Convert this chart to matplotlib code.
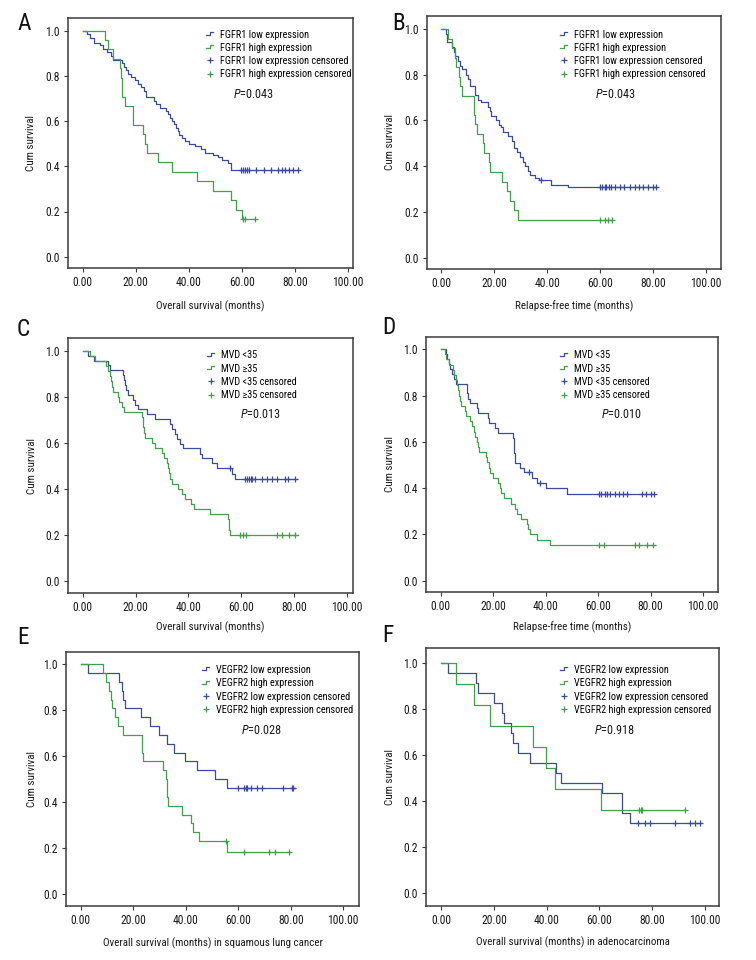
import numpy as np
import matplotlib
matplotlib.use("Agg")
import matplotlib.pyplot as plt
from matplotlib.lines import Line2D
from matplotlib.legend_handler import HandlerBase
from matplotlib import font_manager as fm
from matplotlib.textpath import TextToPath

# ---------------- Font choice: a narrow sans face close to the reference ----------------
SAMPLE = "FGFR1 high expression censored"
TARGET_RATIO = 15.3      # text width / cap height seen in the reference
TARGET_CAP_PX = 8.5      # cap height of tick/legend text in the reference (pixels)
BASE_FAMILIES = ('DejaVu Sans', 'Liberation Sans', 'Noto Sans', 'Roboto', 'Open Sans', 'Lato', 'Inter')


def allowed(name):
    if name in BASE_FAMILIES:
        return True
    for p in BASE_FAMILIES:
        if name.startswith(p) and ('Condensed' in name or 'Narrow' in name) \
                and not any(x in name for x in ('Mono', 'CJK', 'Display', 'Serif')):
            return True
    return False


def pick_font():
    ttp = TextToPath()
    seen = set()
    best = None
    for f in fm.fontManager.ttflist:
        if f.style != 'normal' or not allowed(f.name):
            continue
        if f.weight not in (400, 'normal', 'regular', 'book', 'Regular'):
            continue
        key = (f.name, f.stretch)
        if key in seen:
            continue
        seen.add(key)
        try:
            prop = fm.FontProperties(family=f.name, stretch=f.stretch, size=9)
            fm.findfont(prop, fallback_to_default=False)
            w, _, _ = ttp.get_text_width_height_descent(SAMPLE, prop, ismath=False)
            _, ch, _ = ttp.get_text_width_height_descent("FGFR1", prop, ismath=False)
        except Exception:
            continue
        if ch <= 0:
            continue
        ratio = w / ch
        score = abs(ratio - TARGET_RATIO)
        if best is None or score < best[0]:
            best = (score, f.name, f.stretch, ch)
    return best


best = pick_font()
if best is None:
    FAM, STRETCH, CH9 = 'DejaVu Sans', 'normal', 6.6
else:
    _, FAM, STRETCH, CH9 = best

plt.rcParams['font.family'] = [FAM, 'DejaVu Sans']
plt.rcParams['font.stretch'] = STRETCH
plt.rcParams['mathtext.fontset'] = 'custom'
plt.rcParams['mathtext.rm'] = FAM
plt.rcParams['mathtext.it'] = FAM + ':italic'

FS = 9 * (TARGET_CAP_PX * 0.72) / CH9
FS = float(min(max(FS, 7.0), 11.5))
LEG_FS = FS * 0.88

BLUE = "#3a4a9c"
GREEN = "#41a04a"

# ---------------- Data ----------------
# Panel A: FGFR1, overall survival
A_low_t = [0, 1.8, 2.8, 4.4, 6.5, 7.5, 9.0, 10.5, 11.5, 14.7, 15.5, 16.3, 17.1, 18.4, 19.6, 20.8, 22.1, 23.0,
           24.0, 26.8, 27.8, 29.0, 31.6, 32.3, 33.0, 33.7, 34.4, 35.1, 35.8, 36.5, 37.3, 38.5, 40.0, 42.5,
           44.8, 46.1, 49.0, 51.0, 52.7, 55.0, 55.8]
A_low_s = [1.0, 0.984, 0.968, 0.944, 0.935, 0.92, 0.905, 0.888, 0.872, 0.857, 0.84, 0.825, 0.81, 0.795, 0.78,
           0.765, 0.75, 0.735, 0.705, 0.69, 0.675, 0.66, 0.645, 0.63, 0.615, 0.60, 0.585, 0.57, 0.555, 0.54,
           0.525, 0.51, 0.50, 0.49, 0.475, 0.46, 0.45, 0.44, 0.43, 0.415, 0.383]
A_low_end = 81.5
A_low_cens = [59.6, 60.5, 61.4, 62.0, 62.7, 65.5, 68.6, 71.1, 73.7, 75.3, 76.5, 78.0, 79.5, 81.2]
A_high_t = [0, 8.4, 9.7, 11.5, 14.0, 14.4, 14.8, 15.0, 16.0, 18.8, 19.0, 22.8, 23.6, 24.1, 28.5, 33.8, 43.2,
            49.2, 55.8, 57.7, 60.1]
A_high_s = [1.0, 0.958, 0.917, 0.875, 0.833, 0.792, 0.75, 0.708, 0.667, 0.625, 0.583, 0.542, 0.5, 0.458,
            0.417, 0.375, 0.333, 0.292, 0.25, 0.208, 0.167]
A_high_end = 64.9
A_high_cens = [60.5, 61.1, 64.9]

# Panel B: FGFR1, relapse-free time
B_low_t = [0, 1.9, 2.2, 2.3, 4.0, 4.8, 5.3, 6.3, 6.9, 7.8, 9.5, 10.0, 10.7, 12.6, 12.9, 13.8, 15.1, 17.6, 18.2,
           18.9, 20.8, 21.7, 22.5, 23.4, 25.3, 26.5, 27.5, 28.4, 29.6, 30.8, 31.7, 32.7, 33.6, 35.2, 37.0,
           41.5, 47.8]
B_low_s = [1.0, 0.98, 0.96, 0.945, 0.92, 0.90, 0.88, 0.86, 0.84, 0.824, 0.80, 0.78, 0.752, 0.73, 0.71, 0.69,
           0.68, 0.66, 0.64, 0.62, 0.60, 0.58, 0.57, 0.55, 0.53, 0.51, 0.48, 0.46, 0.44, 0.42, 0.40, 0.38,
           0.36, 0.35, 0.34, 0.32, 0.31]
B_low_end = 81.5
B_low_cens = [37.7, 59.7, 60.6, 61.6, 62.3, 63.1, 64.2, 65.7, 67.3, 68.9, 71.1, 73.0, 74.6, 76.1, 78.0, 79.9, 81.1]
B_high_t = [0, 2.5, 4.0, 5.3, 5.6, 6.7, 7.2, 7.8, 12.2, 12.5, 12.8, 13.6, 15.7, 16.1, 18.0, 18.2, 23.0, 24.8,
            26.0, 27.3, 28.9]
B_high_s = [1.0, 0.958, 0.917, 0.875, 0.833, 0.792, 0.75, 0.708, 0.667, 0.625, 0.583, 0.542, 0.5, 0.458,
            0.417, 0.375, 0.333, 0.292, 0.25, 0.208, 0.167]
B_high_end = 64.5
B_high_cens = [59.7, 61.6, 62.9, 64.5]

# Panel C: MVD, overall survival
C_low_t = [0, 2.1, 4.3, 9.7, 10.4, 15.2, 15.8, 16.2, 16.4, 17.3, 18.9, 19.8, 21.1, 24.2, 27.4, 33.1, 33.7, 35.0,
           35.6, 36.9, 37.9, 44.4, 45.1, 48.9, 51.0, 56.4, 57.7]
C_low_s = [1.0, 0.979, 0.957, 0.936, 0.915, 0.894, 0.872, 0.851, 0.830, 0.809, 0.787, 0.766, 0.745, 0.723,
           0.702, 0.680, 0.659, 0.638, 0.617, 0.596, 0.575, 0.553, 0.532, 0.510, 0.489, 0.466, 0.444]
C_low_end = 81.0
C_low_cens = [55.8, 61.5, 62.4, 63.1, 63.6, 64.3, 65.3, 67.8, 69.7, 71.6, 73.5, 76.6, 77.9, 80.4]
C_high_t = [0, 2.8, 4.7, 8.8, 9.7, 10.4, 10.8, 11.2, 11.6, 13.5, 13.9, 14.8, 15.7, 22.3, 22.7, 23.0, 23.4, 23.7,
            26.1, 27.4, 29.9, 30.8, 31.8, 32.2, 32.7, 33.1, 33.7, 36.2, 37.5, 38.8, 40.9, 42.2, 48.2, 54.9,
            55.3, 55.5, 55.8]
C_high_s = [1.0, 0.978, 0.956, 0.933, 0.911, 0.889, 0.867, 0.844, 0.822, 0.800, 0.778, 0.756, 0.733, 0.711,
            0.689, 0.667, 0.644, 0.622, 0.600, 0.578, 0.556, 0.533, 0.511, 0.489, 0.467, 0.444, 0.422, 0.400,
            0.378, 0.356, 0.333, 0.311, 0.289, 0.267, 0.244, 0.222, 0.200]
C_high_end = 81.4
C_high_cens = [59.6, 60.9, 61.9, 73.5, 75.4, 78.3, 80.4]

# Panel D: MVD, relapse-free time
D_low_t = [0, 1.9, 2.4, 3.0, 3.4, 4.3, 5.0, 6.0, 9.9, 10.2, 10.4, 11.1, 14.0, 14.2, 18.0, 18.3, 20.8, 21.9,
           27.6, 27.8, 27.9, 28.1, 28.2, 28.5, 30.1, 31.8, 34.8, 36.8, 40.3, 48.3]
D_low_s = [1.0, 0.979, 0.957, 0.936, 0.915, 0.894, 0.872, 0.851, 0.830, 0.809, 0.787, 0.766, 0.745, 0.723,
           0.702, 0.680, 0.659, 0.638, 0.617, 0.596, 0.574, 0.553, 0.532, 0.510, 0.489, 0.468, 0.445, 0.422,
           0.400, 0.375]
D_low_end = 81.3
D_low_cens = [33.5, 37.7, 60.2, 61.0, 62.5, 63.5, 64.7, 66.6, 67.9, 69.5, 71.2, 76.9, 78.4, 80.1, 81.3]
D_high_t = [0, 1.8, 2.2, 3.0, 4.7, 5.1, 5.7, 6.1, 6.6, 7.0, 7.4, 7.9, 9.4, 9.8, 11.1, 12.1, 12.7, 13.2, 13.7,
            14.2, 14.6, 17.4, 17.8, 18.3, 18.9, 19.9, 21.9, 22.5, 23.1, 24.1, 26.7, 28.5, 29.2, 30.7, 32.9,
            33.3, 33.9, 36.8, 41.5]
D_high_s = [1.0, 0.978, 0.956, 0.933, 0.911, 0.889, 0.867, 0.844, 0.822, 0.800, 0.778, 0.756, 0.733, 0.711,
            0.689, 0.667, 0.644, 0.622, 0.600, 0.578, 0.556, 0.533, 0.511, 0.489, 0.467, 0.444, 0.422, 0.400,
            0.378, 0.356, 0.333, 0.311, 0.289, 0.267, 0.244, 0.222, 0.200, 0.178, 0.156]
D_high_end = 81.6
D_high_cens = [60.2, 62.1, 74.0, 75.5, 78.8, 81.0]

# Panel E: VEGFR2, squamous lung cancer
E_low_t = [0, 2.7, 14.7, 15.6, 16.2, 16.9, 22.8, 26.4, 29.9, 32.7, 35.5, 39.7, 44.4, 51.1, 55.8]
E_low_s = [1.0, 0.962, 0.923, 0.885, 0.846, 0.808, 0.769, 0.731, 0.692, 0.654, 0.615, 0.577, 0.538, 0.500, 0.462]
E_low_end = 81.6
E_low_cens = [60.0, 62.3, 62.8, 63.2, 64.7, 67.0, 68.9, 76.9, 80.3, 81.0]
E_high_t = [0, 8.6, 9.6, 10.9, 11.4, 11.8, 13.1, 14.3, 16.2, 23.2, 23.5, 23.9, 31.2, 32.4, 32.7, 33.0, 33.4,
            38.5, 41.9, 42.6, 45.1, 55.8]
E_high_s = [1.0, 0.962, 0.923, 0.885, 0.846, 0.808, 0.769, 0.731, 0.692, 0.654, 0.615, 0.577, 0.538, 0.500,
            0.462, 0.423, 0.385, 0.346, 0.308, 0.269, 0.231, 0.185]
E_high_end = 79.7
E_high_cens = [55.3, 62.2, 71.8, 74.0, 79.4]

# Panel F: VEGFR2, adenocarcinoma
F_low_t = [0, 2.5, 13.0, 13.9, 20.0, 23.0, 23.8, 26.6, 27.2, 29.1, 33.8, 43.7, 45.6, 61.0, 68.7, 71.8]
F_low_s = [1.0, 0.957, 0.913, 0.870, 0.826, 0.783, 0.739, 0.696, 0.652, 0.609, 0.565, 0.522, 0.478, 0.435,
           0.348, 0.304]
F_low_end = 98.5
F_low_cens = [74.7, 77.2, 79.1, 88.6, 94.3, 96.2, 98.1]
F_high_t = [0, 5.4, 12.4, 18.4, 34.8, 39.9, 43.0, 60.5]
F_high_s = [1.0, 0.909, 0.818, 0.727, 0.636, 0.545, 0.455, 0.364]
F_high_end = 92.7
F_high_cens = [74.9, 75.7, 76.3, 92.7]

x_ticks = [0, 20, 40, 60, 80, 100]
y_ticks = [0.0, 0.2, 0.4, 0.6, 0.8, 1.0]

labels_fgfr = ["FGFR1 low expression", "FGFR1 high expression",
               "FGFR1 low expression censored", "FGFR1 high expression censored"]
labels_mvd = ["MVD <35", "MVD \u226535", "MVD <35 censored", "MVD \u226535 censored"]
labels_vegfr = ["VEGFR2 low expression", "VEGFR2 high expression",
                "VEGFR2 low expression censored", "VEGFR2 high expression censored"]

panels = [
    dict(letter="A", low=(A_low_t, A_low_s, A_low_end, A_low_cens), high=(A_high_t, A_high_s, A_high_end, A_high_cens),
         labels=labels_fgfr, p="0.043", xlabel="Overall survival (months)"),
    dict(letter="B", low=(B_low_t, B_low_s, B_low_end, B_low_cens), high=(B_high_t, B_high_s, B_high_end, B_high_cens),
         labels=labels_fgfr, p="0.043", xlabel="Relapse-free time (months)"),
    dict(letter="C", low=(C_low_t, C_low_s, C_low_end, C_low_cens), high=(C_high_t, C_high_s, C_high_end, C_high_cens),
         labels=labels_mvd, p="0.013", xlabel="Overall survival (months)"),
    dict(letter="D", low=(D_low_t, D_low_s, D_low_end, D_low_cens), high=(D_high_t, D_high_s, D_high_end, D_high_cens),
         labels=labels_mvd, p="0.010", xlabel="Relapse-free time (months)"),
    dict(letter="E", low=(E_low_t, E_low_s, E_low_end, E_low_cens), high=(E_high_t, E_high_s, E_high_end, E_high_cens),
         labels=labels_vegfr, p="0.028", xlabel="Overall survival (months) in squamous lung cancer"),
    dict(letter="F", low=(F_low_t, F_low_s, F_low_end, F_low_cens), high=(F_high_t, F_high_s, F_high_end, F_high_cens),
         labels=labels_vegfr, p="0.918", xlabel="Overall survival (months) in adenocarcinoma"),
]

# ---------------- Layout (pixels) ----------------
W, H = 756, 960
layout = [
    dict(box=(68, 18, 353, 268), x0=82.7, x100=347.7, y1=30.7, y0=256.7,
         leg=(206, 29.5), ptxt=(233, 95), letter=(17, 23), ylab=31, xlab=306),
    dict(box=(427, 16, 721, 269), x0=441.3, x100=706.3, y1=29.0, y0=257.7,
         leg=(560, 29.5), ptxt=(595, 94), letter=(392, 23), ylab=390, xlab=306),
    dict(box=(68, 338, 353, 593), x0=82.7, x100=346.7, y1=350.7, y0=580.7,
         leg=(207, 350.5), ptxt=(240, 415), letter=(17, 330), ylab=32, xlab=627),
    dict(box=(426, 337, 718, 592), x0=440.7, x100=703.0, y1=349.3, y0=580.7,
         leg=(560, 350.5), ptxt=(601, 415), letter=(382, 327), ylab=390, xlab=627),
    dict(box=(66, 652, 359, 906), x0=80.7, x100=343.3, y1=664.3, y0=894.0,
         leg=(202, 665), ptxt=(241, 730), letter=(17, 638), ylab=32, xlab=943),
    dict(box=(426, 648, 719, 906), x0=441.3, x100=704.7, y1=663.3, y0=893.3,
         leg=(560, 665), ptxt=(594, 730), letter=(382, 636), ylab=390, xlab=942),
]


class StepLine(Line2D):
    pass


class StepHandler(HandlerBase):
    def create_artists(self, legend, orig_handle, xdescent, ydescent, width, height, fontsize, trans):
        x0 = -xdescent
        y0 = -ydescent
        xs = [x0, x0 + 0.55 * width, x0 + 0.55 * width, x0 + width]
        ys = [y0 + 0.35 * height, y0 + 0.35 * height, y0 + 0.8 * height, y0 + 0.8 * height]
        ln = Line2D(xs, ys, color=orig_handle.get_color(), lw=orig_handle.get_linewidth(), transform=trans)
        return [ln]


def surv_at(t_list, s_list, tq):
    idx = np.searchsorted(np.asarray(t_list), np.asarray(tq), side='right') - 1
    return np.asarray(s_list)[idx]


fig = plt.figure(figsize=(W / 100, H / 100), dpi=100)
EDGE = "#3b3b3b"
TXT = '#1a1a1a'

for pan, lay in zip(panels, layout):
    l, t, r, b = lay['box']
    ax = fig.add_axes([l / W, 1 - b / H, (r - l) / W, (b - t) / H])
    ppm = (lay['x100'] - lay['x0']) / 100.0
    ax.set_xlim(-(lay['x0'] - l) / ppm, 100 + (r - lay['x100']) / ppm)
    ppu = (lay['y0'] - lay['y1'])
    ax.set_ylim(-(b - lay['y0']) / ppu, 1 + (lay['y1'] - t) / ppu)

    for (tt, ss, end, cens), col in ((pan['low'], BLUE), (pan['high'], GREEN)):
        xs = list(tt) + [end]
        ys = list(ss) + [ss[-1]]
        ax.step(xs, ys, where='post', color=col, lw=0.9)
        ax.plot(cens, surv_at(tt, ss, cens), ls='none', marker='+', ms=5, mew=0.9, color=col)

    ax.set_xticks(x_ticks)
    ax.set_yticks(y_ticks)
    ax.set_xticklabels([f"{v:.2f}" for v in x_ticks])
    ax.set_yticklabels([f"{v:.1f}" for v in y_ticks])
    ax.tick_params(direction='out', length=3, width=0.8, color=EDGE, labelsize=FS, pad=3, labelcolor=TXT)
    for sp in ax.spines.values():
        sp.set_color(EDGE)
        sp.set_linewidth(1.1)

    ax.set_ylabel("Cum survival", fontsize=FS * 0.95, color=TXT)
    ax.yaxis.set_label_coords((lay['ylab'] - l) / (r - l), 0.5)
    ax.yaxis.label.set_va('center')
    ax.set_xlabel(pan['xlabel'], fontsize=FS * 0.95, color=TXT)
    ax.xaxis.set_label_coords(0.5, (b - lay['xlab']) / (b - t))
    ax.xaxis.label.set_va('center')

    h1 = StepLine([0], [0], color=BLUE, lw=0.9)
    h2 = StepLine([0], [0], color=GREEN, lw=0.9)
    h3 = Line2D([0], [0], ls='none', marker='+', ms=5, mew=0.9, color=BLUE)
    h4 = Line2D([0], [0], ls='none', marker='+', ms=5, mew=0.9, color=GREEN)
    lx, ly = lay['leg']
    ax.legend([h1, h2, h3, h4], pan['labels'], loc='upper left',
              bbox_to_anchor=((lx - l) / (r - l), (b - ly) / (b - t)),
              frameon=False, fontsize=LEG_FS, handlelength=0.7, handletextpad=0.65,
              labelspacing=0.32, borderpad=0, borderaxespad=0,
              handler_map={StepLine: StepHandler()})
    px, py = lay['ptxt']
    ax.text((px - l) / (r - l), (b - py) / (b - t), r"$\mathit{P}$=" + pan['p'],
            transform=ax.transAxes, fontsize=FS * 1.05, ha='left', va='center', color=TXT)

    lx2, ly2 = lay['letter']
    fig.text(lx2 / W, 1 - ly2 / H, pan['letter'], fontsize=FS * 2.0, ha='left', va='center', color='#111111')

fig.savefig("out.png", dpi=100, facecolor='white')
